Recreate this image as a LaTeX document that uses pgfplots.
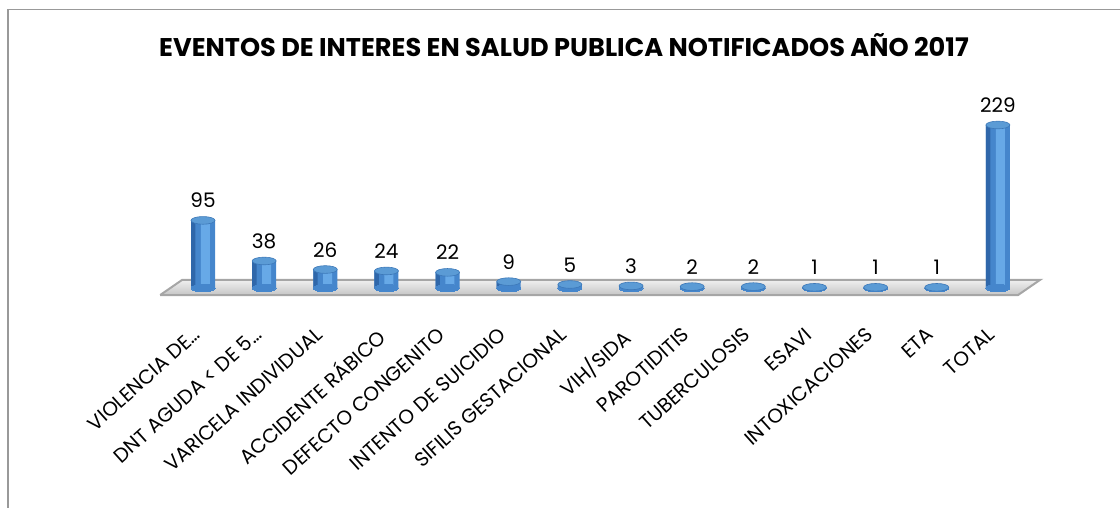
\documentclass[border=0pt]{standalone}
\usepackage{pgfplots}
\usepackage{pgfplotstable}
\pgfplotsset{compat=1.18}
\usepackage{fontspec}
\setmainfont{Poppins}
\definecolor{barD}{HTML}{2F67AA}
\definecolor{barB}{HTML}{4586CC}
\definecolor{barH}{HTML}{6EB0EC}
\definecolor{capC}{HTML}{5B9BD5}
\definecolor{capE}{HTML}{3C78B8}
\pgfplotstableread{
x y
0 95
1 38
2 26
3 24
4 22
5 9
6 5
7 3
8 2
9 2
10 1
11 1
12 1
13 229
}\datatable
\begin{document}
\begin{tikzpicture}
\useasboundingbox (0,0) rectangle (560pt,254pt);
\draw[gray!80, line width=0.8pt] (4pt,0) -- (4pt,249.25pt) -- (560pt,249.25pt);
\node[font=\bfseries\fontsize{12.8}{15}\selectfont, anchor=base] at (282pt,225.75pt)
  {EVENTOS DE INTERES EN SALUD PUBLICA NOTIFICADOS AÑO 2017};
\begin{axis}[
  at={(70.93pt,105.0pt)}, anchor=south west,
  scale only axis, width=458.6pt, height=93.98pt,
  xmin=-1, xmax=14, ymin=-14, ymax=250,
  clip=false,
  axis x line=bottom, axis y line=none,
  x axis line style={draw=none},
  tick style={draw=none},
  xtick={0,...,13},
  xticklabels={VIOLENCIA DE…,DNT AGUDA < DE 5…,VARICELA INDIVIDUAL,ACCIDENTE RÁBICO,DEFECTO CONGENITO,INTENTO DE SUICIDIO,SIFILIS GESTACIONAL,VIH/SIDA,PAROTIDITIS,TUBERCULOSIS,ESAVI,INTOXICACIONES,ETA,TOTAL},
  xticklabel style={rotate=42, anchor=north east, font=\fontsize{10}{11}\selectfont, xshift=-11pt, yshift=-4pt, inner sep=1pt},
  /pgf/number format/assume math mode=true,
]
% floor
\addplot[draw=gray!70, line width=1pt, top color=gray!12, bottom color=gray!45] coordinates {(-0.70,-9.8) (13.33,-9.8) (13.69,11.5) (-0.34,11.5) (-0.70,-9.8)};
% bottom ellipses
\addplot[only marks, mark=*, mark size=6pt, mark options={fill=barB, draw=barB, line width=0pt, yscale=0.32}] table[x=x, y expr=0] {\datatable};
% bodies
\addplot[ybar, bar width=12pt, draw=none, fill=barB,
  nodes near coords, nodes near coords style={font=\fontsize{10}{12}\selectfont, anchor=south, inner sep=0pt, yshift=6pt, text=black}]
  table[x=x, y=y] {\datatable};
\addplot[ybar, bar width=2.2pt, bar shift=-4.9pt, draw=none, fill=barD] table[x=x, y=y] {\datatable};
\addplot[ybar, bar width=4.5pt, bar shift=1.2pt, draw=none, fill=barH, fill opacity=0.85] table[x=x, y=y] {\datatable};
% caps
\addplot[only marks, mark=*, mark size=6pt, mark options={fill=capC, draw=capE, line width=0.3pt, yscale=0.32}]
  table[x=x, y=y] {\datatable};
\end{axis}
\end{tikzpicture}
\end{document}
